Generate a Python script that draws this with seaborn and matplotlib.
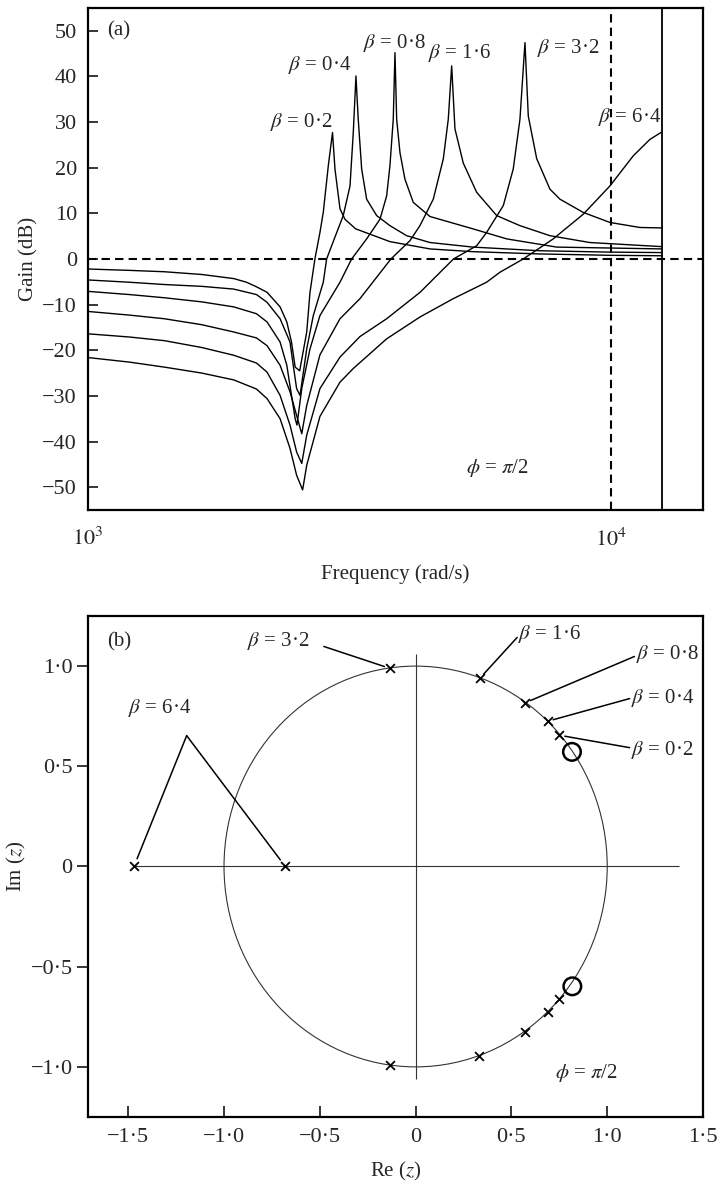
import numpy as np
import pandas as pd
import matplotlib
matplotlib.use("Agg")
import matplotlib.pyplot as plt
import seaborn as sns
from matplotlib.patches import Circle
from matplotlib.ticker import FixedLocator, FixedFormatter, NullLocator

# ---------------- data: panel (a) gain curves ----------------
betas = ["0·2", "0·4", "0·8", "1·6", "3·2", "6·4"]

freq_b02 = [1000, 1200, 1400, 1650, 1900, 2010, 2100, 2200, 2330, 2400, 2450, 2490, 2540, 2620, 2658, 2716,
            2777, 2818, 2881, 2935, 2967, 3033, 3100, 3250, 3779, 4508, 5446, 7315, 9956, 12516]
gain_b02 = [-2.2, -2.5, -2.8, -3.4, -4.3, -5.1, -6.1, -7.3, -10.5, -13.8, -18.2, -23.7, -24.5, -16.0, -7.3, 0.0,
            5.8, 10.2, 20.4, 27.7, 19.7, 11.0, 8.7, 6.6, 3.8, 2.2, 1.6, 1.1, 0.8, 0.7]

freq_b04 = [1000, 1200, 1400, 1650, 1900, 2100, 2200, 2330, 2434, 2469, 2506, 2544, 2620, 2697, 2818, 2860,
            2960, 3077, 3170, 3216, 3254, 3287, 3337, 3411, 3565, 3779, 4068, 4508, 5446,
            7315, 9956, 12516]
gain_b04 = [-4.6, -5.1, -5.6, -6.0, -6.6, -7.8, -9.5, -13.1, -18.2, -23.3, -28.4, -29.9, -19.7, -12.4, -5.1, 0.0,
            4.5, 9.5, 16.0, 27.7, 40.1, 30.6, 19.7, 13.1, 9.5, 7.3, 5.1, 3.6, 2.6,
            1.8, 1.5, 1.4]

freq_b08 = [1000, 1200, 1400, 1650, 1900, 2100, 2200, 2330, 2400, 2450, 2490, 2510, 2563, 2658, 2777, 3033,
            3193, 3411, 3617, 3725, 3779, 3835, 3864, 3893, 3950, 4037, 4188, 4508, 5446,
            6319, 7875, 12516]
gain_b08 = [-7.1, -7.8, -8.5, -9.4, -10.5, -12.0, -13.8, -18.2, -23.3, -29.9, -35.0, -36.4, -28.4, -19.7, -12.4, -5.1,
            0.0, 4.4, 8.7, 13.8, 20.4, 30.6, 45.2, 30.6, 23.3, 17.5, 12.4, 9.3, 6.6,
            4.4, 2.6, 2.2]

freq_b16 = [1000, 1200, 1400, 1650, 1900, 2100, 2200, 2330, 2434, 2506, 2563, 2620, 2777, 3033, 3312, 3796,
            4127, 4313, 4574, 4780, 4886, 4960, 5032, 5220, 5537, 6047, 6699, 7644, 9117, 12516]
gain_b16 = [-11.5, -12.3, -13.1, -14.4, -16.0, -17.3, -19.0, -23.3, -29.1, -34.3, -38.3, -32.1, -21.0, -13.1, -8.7, 0.0,
            4.0, 7.3, 13.1, 21.9, 30.6, 42.3, 28.5, 21.0, 14.6, 9.5, 7.3, 5.1, 3.6, 2.7]

freq_b32 = [1000, 1200, 1400, 1650, 1900, 2100, 2200, 2330, 2434, 2506, 2563, 2620, 2777, 3033, 3312, 3725,
            4316, 5000, 5537, 5784, 6226, 6504, 6699, 6849, 6950, 7211, 7644, 7989, 8851,
            9956, 11360, 12516]
gain_b32 = [-16.4, -17.1, -17.9, -19.4, -21.1, -22.8, -24.8, -29.9, -36.4, -42.3, -44.8, -38.6, -28.4, -21.5, -17.0, -13.1,
            -7.3, 0.0, 2.9, 5.8, 11.7, 19.7, 30.6, 47.4, 31.3, 22.0, 15.3, 13.1, 10.2,
            8.0, 6.9, 6.8]

freq_b64 = [1000, 1200, 1400, 1650, 1900, 2100, 2200, 2330, 2434, 2506, 2573, 2620, 2777, 3033, 3216, 3725,
            4316, 4994, 5784, 6136, 6797, 7757, 8851, 9956, 11033, 11873, 12500]
gain_b64 = [-21.6, -22.6, -23.7, -25.0, -26.5, -28.5, -30.6, -35.0, -41.5, -47.4, -50.6, -45.2, -34.5, -27.0, -24.0, -17.5,
            -12.7, -8.7, -5.1, -2.9, 0.0, 4.4, 9.8, 16.0, 22.6, 26.2, 27.8]

freq_lists = [freq_b02, freq_b04, freq_b08, freq_b16, freq_b32, freq_b64]
gain_lists = [gain_b02, gain_b04, gain_b08, gain_b16, gain_b32, gain_b64]

# ---------------- data: panel (b) poles / zeros ----------------
pole_beta = ["0·2", "0·4", "0·8", "1·6", "3·2", "6·4", "0·2", "0·4", "0·8", "1·6", "3·2", "6·4"]
pole_re = [0.75, 0.69, 0.572, 0.335, -0.135, -1.47, 0.75, 0.69, 0.572, 0.332, -0.135, -0.68]
pole_im = [0.655, 0.725, 0.817, 0.939, 0.989, 0.0, -0.66, -0.727, -0.825, -0.945, -0.99, 0.0]
zero_re = [0.816, 0.818]
zero_im = [0.572, -0.598]

# ---------------- style ----------------
sns.set_style("ticks")
plt.rcParams["font.family"] = ["Liberation Serif", "DejaVu Serif"]
plt.rcParams["mathtext.fontset"] = "stix"
plt.rcParams["axes.unicode_minus"] = True
FS = 15
TFS = 16

fig = plt.figure(figsize=(7.17, 11.86), dpi=100)
ax1 = fig.add_axes([0.1227, 0.5700, 0.8578, 0.4233])
ax2 = fig.add_axes([0.1227, 0.0582, 0.8578, 0.4224])

# ---------------- panel (a) ----------------
frames = []
for b, f, g in zip(betas, freq_lists, gain_lists):
    frames.append(pd.DataFrame({"freq": f, "gain": g, "beta": b}))
df = pd.concat(frames, ignore_index=True)

ax1.set_xscale("log")
sns.lineplot(data=df, x="freq", y="gain", hue="beta", units="beta", estimator=None,
             palette=["black"] * 6, legend=False, lw=1.0, ax=ax1, sort=False)

ax1.axhline(0, color="black", lw=1.5, ls=(0, (4, 2.5)), zorder=1)
ax1.axvline(1e4, color="black", lw=1.5, ls=(0, (4, 2.5)), zorder=1)
ax1.axvline(1.25e4, color="black", lw=1.3, zorder=1)

ax1.set_xlim(1000, 15000)
ax1.set_ylim(-55, 55)
ax1.xaxis.set_major_locator(FixedLocator([1e3, 1e4]))
ax1.xaxis.set_major_formatter(FixedFormatter([r"$10^3$", r"$10^4$"]))
ax1.xaxis.set_minor_locator(NullLocator())
yt = list(range(-50, 51, 10))
ax1.yaxis.set_major_locator(FixedLocator(yt))
ax1.yaxis.set_major_formatter(FixedFormatter([("\u2212" + str(-v)) if v < 0 else str(v) for v in yt]))
ax1.tick_params(axis="y", direction="in", length=7, width=1.3, labelsize=TFS, pad=8)
ax1.tick_params(axis="x", length=0, labelsize=TFS, pad=13)
ax1.set_xlabel("Frequency (rad/s)", fontsize=FS)
ax1.set_ylabel("Gain (dB)", fontsize=FS)
ax1.xaxis.set_label_coords(0.5, -0.108)
ax1.yaxis.set_label_coords(-0.08, 0.5)
for s in ax1.spines.values():
    s.set_linewidth(1.6)
    s.set_color("black")

ax1.text(1090, 50, "(a)", fontsize=FS, ha="left", va="center")
peak_label_pos = [(2228, 30.1), (2411, 42.6), (3356, 47.4), (4467, 45.2), (7211, 46.3), (9443, 31.2)]
for b, (x, y) in zip(betas, peak_label_pos):
    ax1.text(x, y, r"$\beta$ = " + b, fontsize=FS, ha="left", va="center")
ax1.text(5285, -45.9, r"$\phi$ = $\pi$/2", fontsize=FS, ha="left", va="center")

# ---------------- panel (b) ----------------
ax2.add_patch(Circle((0, 0), 1.0, fill=False, ec="#333333", lw=0.8, zorder=2))
ax2.hlines(0, -1.47, 1.375, color="#333333", lw=0.8, zorder=2)
ax2.vlines(0, -1.06, 1.06, color="#333333", lw=0.8, zorder=2)

pz = pd.DataFrame({"re": pole_re, "im": pole_im, "beta": pole_beta})
sns.scatterplot(data=pz, x="re", y="im", marker="x", color="black", s=40,
                linewidth=1.3, ax=ax2, zorder=5, legend=False)
zz = pd.DataFrame({"re": zero_re, "im": zero_im})
ax2.scatter(zz["re"], zz["im"], marker="o", s=160, facecolors="none",
            edgecolors="black", linewidths=1.8, zorder=5)

# leader lines and labels
leader = {"0·2": (1.117, 0.593), "0·4": (1.117, 0.838), "0·8": (1.142, 1.048),
          "1·6": (0.53, 1.143), "3·2": (-0.479, 1.098)}
label_at = {"0·2": (1.125, 0.583, "left"), "0·4": (1.122, 0.843, "left"),
            "0·8": (1.15, 1.058, "left"), "1·6": (0.535, 1.159, "left"),
            "3·2": (-0.555, 1.123, "right")}
for b, x, y in zip(pole_beta[:5], pole_re[:5], pole_im[:5]):
    ax2.annotate("", xy=(x, y), xytext=leader[b],
                 arrowprops=dict(arrowstyle="-", lw=1.1, color="black", shrinkA=0, shrinkB=4))
    lx, ly, ha = label_at[b]
    ax2.text(lx, ly, r"$\beta$ = " + b, fontsize=FS, ha=ha, va="center")
apex = (-1.195, 0.653)
for x, y in [(pole_re[5], pole_im[5]), (pole_re[11], pole_im[11])]:
    ax2.annotate("", xy=(x, y), xytext=apex,
                 arrowprops=dict(arrowstyle="-", lw=1.1, color="black", shrinkA=0, shrinkB=6))
ax2.text(-1.335, 0.793, r"$\beta$ = 6·4", fontsize=FS, ha="center", va="center")
ax2.text(-1.61, 1.12, "(b)", fontsize=FS, ha="left", va="center")
ax2.text(0.73, -1.03, r"$\phi$ = $\pi$/2", fontsize=FS, ha="left", va="center")

ax2.set_xlim(-1.71, 1.5)
ax2.set_ylim(-1.25, 1.25)
xt = [-1.5, -1.0, -0.5, 0, 0.5, 1.0, 1.5]
ytb = [-1.0, -0.5, 0, 0.5, 1.0]
def fmt(v):
    if v == 0:
        return "0"
    s = f"{abs(v):.1f}".replace(".", "·")
    return ("\u2212" + s) if v < 0 else s
ax2.xaxis.set_major_locator(FixedLocator(xt))
ax2.xaxis.set_major_formatter(FixedFormatter([fmt(v) for v in xt]))
ax2.yaxis.set_major_locator(FixedLocator(ytb))
ax2.yaxis.set_major_formatter(FixedFormatter([fmt(v) for v in ytb]))
ax2.tick_params(axis="x", direction="in", length=8, width=1.3, labelsize=TFS, pad=8)
ax2.tick_params(axis="y", direction="out", length=8, width=1.3, labelsize=TFS, pad=3)
ax2.set_xlabel("Re ($z$)", fontsize=FS)
ax2.set_ylabel("Im ($z$)", fontsize=FS)
ax2.xaxis.set_label_coords(0.5, -0.085)
ax2.yaxis.set_label_coords(-0.098, 0.5)
for s in ax2.spines.values():
    s.set_linewidth(1.6)
    s.set_color("black")

fig.savefig("out.png", dpi=100)
